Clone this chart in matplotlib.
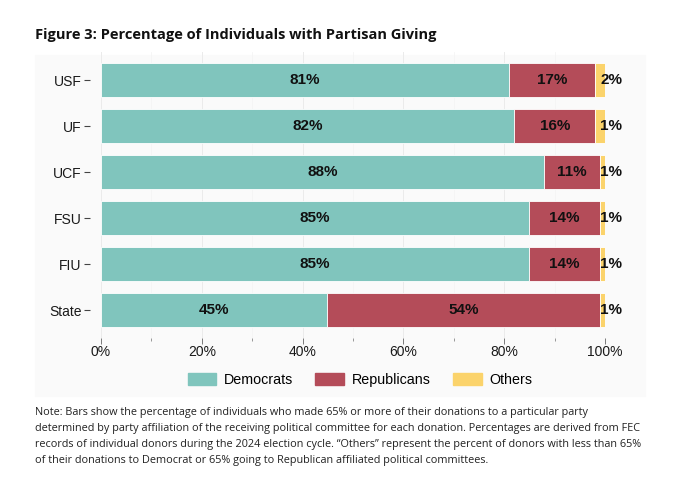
import matplotlib.pyplot as plt
from matplotlib.patches import Rectangle, Patch
import numpy as np

schools = ['State', 'FIU', 'FSU', 'UCF', 'UF', 'USF']
dem = [44.8, 85.0, 85.0, 87.9, 82.0, 81.0]
rep = [54.2, 14.0, 14.0, 11.1, 16.1, 17.1]
oth = [1.0, 1.0, 1.0, 1.0, 1.9, 1.9]
dem_lbl = ['45%', '85%', '85%', '88%', '82%', '81%']
rep_lbl = ['54%', '14%', '14%', '11%', '16%', '17%']
oth_lbl = ['1%', '1%', '1%', '1%', '1%', '2%']

c_dem = '#80c5bd'
c_rep = '#b44c59'
c_oth = '#fbd36b'

W, H = 680, 482
fig = plt.figure(figsize=(W / 100, H / 100), dpi=100)

# light panel behind the plot
fig.patches.append(Rectangle((35 / W, 1 - 396 / H), 610 / W, 341 / H,
                             transform=fig.transFigure, color='#fafafa', zorder=-10))

ax = fig.add_axes([101 / W, 1 - 337.6 / H, 504 / W, 285.2 / H])
ax.set_facecolor('none')
ax.set_zorder(1)

y = np.arange(len(schools))
h = 0.74
ax.barh(y, dem, height=h, color=c_dem, edgecolor='white', linewidth=0.6, zorder=2)
ax.barh(y, rep, left=dem, height=h, color=c_rep, edgecolor='white', linewidth=0.6, zorder=2)
left2 = np.array(dem) + np.array(rep)
ax.barh(y, oth, left=left2, height=h, color=c_oth, edgecolor='white', linewidth=0.6, zorder=2)

fs = 11
for i in range(len(schools)):
    ax.text(dem[i] / 2, y[i], dem_lbl[i], ha='center', va='center', fontsize=fs,
            fontweight='bold', family='Liberation Sans', color='#111111', zorder=3)
    ax.text(dem[i] + rep[i] / 2, y[i], rep_lbl[i], ha='center', va='center', fontsize=fs,
            fontweight='bold', family='Liberation Sans', color='#111111', zorder=3)
    ax.text(101.2, y[i], oth_lbl[i], ha='center', va='center', fontsize=fs,
            fontweight='bold', family='Liberation Sans', color='#111111', zorder=3,
            clip_on=False)

ax.set_xlim(0, 100)
ax.set_ylim(-0.6, len(schools) - 0.4)
ax.set_xticks([0, 20, 40, 60, 80, 100])
ax.set_xticklabels(['0%', '20%', '40%', '60%', '80%', '100%'])
ax.set_xticks([10, 30, 50, 70, 90], minor=True)
ax.set_yticks(y)
ax.set_yticklabels(schools)

for s in ax.spines.values():
    s.set_visible(False)
ax.spines['left'].set_position(('outward', 8))

ax.grid(axis='x', which='major', color='#ebebeb', linewidth=0.7, zorder=0)
ax.grid(axis='x', which='minor', color='#f3f3f3', linewidth=0.5, zorder=0)
ax.tick_params(axis='x', which='major', length=4, width=0.6, color='#666666',
               labelsize=10, pad=1.5)
ax.tick_params(axis='x', which='minor', length=2, width=0.6, color='#888888')
ax.tick_params(axis='y', length=4, width=0.8, color='#444444', labelsize=10, pad=2)
for lab in ax.get_xticklabels() + ax.get_yticklabels():
    lab.set_family('Liberation Sans')
    lab.set_color('#1a1a1a')

handles = [Patch(color=c_dem, label='Democrats'),
           Patch(color=c_rep, label='Republicans'),
           Patch(color=c_oth, label='Others')]
fig.legend(handles=handles, loc='center', bbox_to_anchor=(360 / W, 1 - 380 / H),
           ncol=3, frameon=False, prop={'family': 'Liberation Sans', 'size': 10.3},
           handlelength=2.0, handleheight=0.85, handletextpad=0.55, columnspacing=1.55)

fig.text(35 / W, 1 - 35 / H, 'Figure 3: Percentage of Individuals with Partisan Giving',
         ha='left', va='center', fontsize=10.5, fontweight='bold', family='Open Sans',
         color='#111111')

note = ('Note: Bars show the percentage of individuals who made 65% or more of their donations to a particular party\n'
        'determined by party affiliation of the receiving political committee for each donation. Percentages are derived from FEC\n'
        'records of individual donors during the 2024 election cycle. \u201cOthers\u201d represent the percent of donors with less than 65%\n'
        'of their donations to Democrat or 65% going to Republican affiliated political committees.')
fig.text(35 / W, 1 - 407 / H, note, ha='left', va='top', fontsize=7.8, family='Open Sans',
         color='#222222', linespacing=1.64)

fig.savefig('out.png', dpi=100)
